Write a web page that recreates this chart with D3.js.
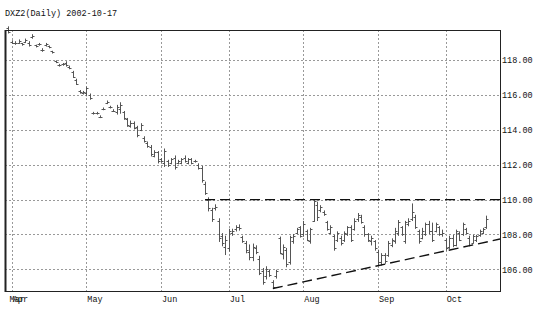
<!DOCTYPE html>
<html>
<head>
<meta charset="utf-8">
<script src="https://cdn.jsdelivr.net/npm/d3@7"></script>
<style>
body { margin: 0; background: #fff; }
text { font-family: "Liberation Mono", "DejaVu Sans Mono", monospace; font-size: 8.5px; fill: #111; }
</style>
</head>
<body>
<script>
// contract + session range
const title = "DXZ2(Daily) 2002-10-17";
const firstDay = "2002-03-28";
const lastDay = "2002-10-17";
const holidays = ["2002-03-29", "2002-05-27", "2002-07-04", "2002-09-02"];

// daily OHLC, one entry per trading day
const opens = [
	119.85,119.05,118.95,119.0,118.95,119.05,119.0,119.3,118.85,118.9,
	118.6,118.85,118.8,118.5,117.95,117.7,117.75,117.85,117.6,117.3,
	116.85,116.2,116.1,116.1,116.0,114.95,114.95,114.75,115.2,115.55,
	115.3,115.1,115.0,115.2,115.0,114.6,114.2,114.4,114.15,114.0,
	113.55,113.25,113.0,112.5,112.7,112.3,112.1,112.2,112.1,112.4,
	112.1,112.1,112.4,112.1,112.3,112.2,112.0,111.8,110.9,110.0,
	109.4,109.5,108.8,107.9,107.3,107.2,108.1,108.3,108.4,107.85,
	107.5,107.0,106.7,107.2,106.6,105.9,105.6,105.9,105.3,105.6,
	107.8,106.9,107.1,106.4,107.6,108.1,108.4,108.0,108.2,107.6,
	108.8,109.7,109.4,109.3,108.7,108.1,107.9,107.7,107.8,107.7,
	108.0,108.4,108.3,108.9,109.0,108.4,108.0,107.6,107.6,107.0,
	106.4,106.8,106.8,107.4,107.6,108.1,108.4,107.6,108.6,108.9,
	109.0,108.2,107.8,108.0,108.6,108.2,108.2,108.4,108.0,107.7,
	107.3,107.8,107.4,108.1,108.0,108.3,107.8,107.5,107.7,107.95,
	108.1,108.4
];
const highs = [
	119.9,119.1,119.05,119.15,118.95,119.2,119.05,119.45,118.85,118.95,
	118.65,118.95,118.8,118.5,117.95,117.75,117.8,117.9,117.65,117.35,
	116.9,116.25,116.2,116.45,116.05,115.0,115.0,114.8,115.25,115.65,
	115.35,115.15,115.4,115.55,115.05,114.65,114.5,114.45,114.2,114.35,
	113.6,113.3,113.1,112.8,112.75,112.35,112.9,112.25,112.35,112.5,
	112.25,112.35,112.5,112.35,112.35,112.25,112.05,111.9,111.0,110.1,
	109.5,109.7,108.9,108.05,107.9,108.3,108.3,108.5,108.55,107.9,
	107.6,107.4,107.45,107.35,106.75,106.05,106.15,105.95,105.35,105.95,
	107.85,107.4,107.2,107.9,108.0,108.35,108.45,108.75,108.25,108.35,
	110.0,109.85,109.65,109.35,108.75,108.5,107.95,108.15,107.9,108.15,
	108.45,108.5,108.9,109.2,109.1,108.5,108.05,107.9,107.65,107.1,
	106.9,106.9,107.6,107.75,108.35,108.8,108.45,108.75,108.9,109.75,
	109.1,108.25,108.35,108.65,108.75,108.65,108.65,108.45,108.25,107.75,
	107.9,107.95,108.25,108.15,108.65,108.35,107.9,107.95,107.95,108.25,
	108.35,109.05
];
const lows = [
	119.55,118.95,118.9,118.95,118.85,119.0,118.8,119.25,118.75,118.85,
	118.5,118.8,118.7,118.4,117.85,117.65,117.7,117.65,117.5,117.0,
	116.6,116.1,116.05,115.95,115.75,114.9,114.9,114.7,115.15,115.5,
	115.25,115.05,114.9,114.95,114.6,114.2,114.15,114.05,113.6,113.95,
	113.3,113.0,112.5,112.45,112.1,112.15,111.9,111.9,112.05,111.75,
	112.05,112.05,112.15,112.05,112.05,112.15,111.75,111.0,110.3,109.35,
	108.75,109.4,107.6,107.35,106.85,107.05,107.95,108.2,108.25,107.55,
	106.95,106.55,106.5,106.9,105.7,105.15,105.45,105.6,104.9,105.5,
	106.9,106.6,106.15,106.3,107.5,108.05,107.85,107.9,107.65,107.5,
	108.75,108.8,109.3,109.1,108.25,108.05,107.1,107.6,107.4,107.6,
	107.95,107.6,108.25,108.75,108.65,107.9,107.6,107.4,107.1,106.25,
	106.25,106.35,106.75,107.3,107.5,107.95,107.95,107.5,108.5,108.8,
	108.35,107.5,107.75,107.95,108.05,107.6,108.15,107.95,107.9,107.1,
	107.2,107.3,107.35,107.65,107.95,108.05,107.35,107.5,107.6,107.9,
	108.05,108.35
];
const closes = [
	119.6,118.95,119.0,119.1,118.9,119.15,118.85,119.4,118.8,118.9,
	118.55,118.9,118.75,118.45,117.9,117.7,117.75,117.7,117.55,117.05,
	116.65,116.15,116.15,116.4,115.8,114.95,114.95,114.75,115.2,115.6,
	115.3,115.1,115.3,115.4,114.65,114.3,114.4,114.1,113.7,114.3,
	113.35,113.05,112.6,112.7,112.2,112.2,112.8,112.0,112.3,111.85,
	112.2,112.3,112.2,112.3,112.1,112.2,111.8,111.1,110.4,109.5,
	108.9,109.6,107.8,107.5,107.7,108.2,108.2,108.4,108.35,107.6,
	107.1,106.7,107.3,107.0,105.8,105.3,106.0,105.7,105.0,105.9,
	106.95,107.3,106.3,107.85,107.9,108.3,107.9,108.6,107.7,108.3,
	109.9,109.0,109.6,109.15,108.3,108.4,107.2,108.1,107.5,108.1,
	108.4,107.7,108.8,109.1,108.7,108.0,107.7,107.8,107.2,106.4,
	106.8,106.5,107.5,107.7,108.2,108.7,108.0,108.7,108.8,109.3,
	108.4,107.6,108.2,108.6,108.2,107.7,108.6,108.0,108.1,107.2,
	107.8,107.4,108.2,107.7,108.6,108.1,107.4,107.9,107.9,108.2,
	108.3,108.9
];

const priceTicks = [106, 108, 110, 112, 114, 116, 118];

// drawn studies: flat top at 110 and rising floor through two lows
const resistance = [58, 110.0];            // [start day index, level]
const support = [[78, 104.9], [129, 107.06]]; // [day index, price]

const width = 541, height = 310;
const plotL = 5, plotR = 500, plotT = 30, plotB = 291;

const parse = d3.utcParse("%Y-%m-%d");
const fmt = d3.utcFormat("%Y-%m-%d");
const days = d3.utcDay.range(parse(firstDay), d3.utcDay.offset(parse(lastDay), 1))
	.filter(d => d.getUTCDay() > 0 && d.getUTCDay() < 6 && !holidays.includes(fmt(d)));

const bars = days.map((d, i) => ({
	i: i, date: d, o: opens[i], h: highs[i], l: lows[i], c: closes[i]
}));

const x = d3.scaleLinear().domain([-1, 145]).range([plotL, plotR]);
const y = d3.scaleLinear().domain([104.76, 119.72]).range([plotB, plotT]);
const px = v => Math.round(v) + 0.5;

const svg = d3.select("body").append("svg")
	.attr("width", width).attr("height", height);

svg.append("text").attr("x", 5).attr("y", 16).text(title);

// month starts
const monthStarts = bars.filter((b, i) => i === 0 || b.date.getUTCMonth() !== bars[i - 1].date.getUTCMonth());

const grid = svg.append("g")
	.attr("stroke", "#999").attr("stroke-width", 1).attr("stroke-dasharray", "2,2");
grid.selectAll("line.h").data(priceTicks).join("line")
	.attr("class", "h")
	.attr("x1", plotL).attr("x2", plotR)
	.attr("y1", d => px(y(d))).attr("y2", d => px(y(d)));
grid.selectAll("line.v").data(monthStarts.filter(b => b.i > 0)).join("line")
	.attr("class", "v")
	.attr("x1", d => px(x(d.i))).attr("x2", d => px(x(d.i)))
	.attr("y1", plotT).attr("y2", plotB);

// OHLC bars
const g = svg.append("g").attr("stroke", "#555").attr("stroke-width", 1);
g.selectAll("line.hl").data(bars).join("line")
	.attr("class", "hl")
	.attr("x1", d => px(x(d.i))).attr("x2", d => px(x(d.i)))
	.attr("y1", d => y(d.h) - 0.5).attr("y2", d => y(d.l) + 0.5);
g.selectAll("line.o").data(bars).join("line")
	.attr("class", "o")
	.attr("x1", d => px(x(d.i)) - 2).attr("x2", d => px(x(d.i)))
	.attr("y1", d => px(y(d.o))).attr("y2", d => px(y(d.o)));
g.selectAll("line.c").data(bars).join("line")
	.attr("class", "c")
	.attr("x1", d => px(x(d.i))).attr("x2", d => px(x(d.i)) + 2)
	.attr("y1", d => px(y(d.c))).attr("y2", d => px(y(d.c)));

// trend lines
const slope = (support[1][1] - support[0][1]) / (support[1][0] - support[0][0]);
const xEnd = x.domain()[1];
const lines = [
	[[resistance[0], resistance[1]], [xEnd, resistance[1]]],
	[[support[0][0], support[0][1]], [xEnd, support[0][1] + slope * (xEnd - support[0][0])]]
];
svg.append("g").selectAll("path").data(lines).join("path")
	.attr("d", d3.line().x(d => x(d[0])).y(d => y(d[1])))
	.attr("fill", "none").attr("stroke", "#111").attr("stroke-width", 1.4)
	.attr("stroke-dasharray", "10,5");

// frame
svg.append("rect")
	.attr("x", plotL + 0.5).attr("y", plotT + 0.5)
	.attr("width", plotR - plotL).attr("height", plotB - plotT)
	.attr("fill", "none").attr("stroke", "#222").attr("stroke-width", 1);
svg.append("line")
	.attr("x1", plotL + 0.5).attr("x2", plotL + 0.5).attr("y1", plotT).attr("y2", plotB + 1)
	.attr("stroke", "#222").attr("stroke-width", 2);

// price axis on the right
const yAxis = svg.append("g")
	.attr("transform", `translate(${plotR},0)`)
	.call(d3.axisRight(y).tickValues(priceTicks).tickFormat(d3.format(".2f")).tickSize(0).tickPadding(2));
yAxis.select(".domain").remove();
yAxis.selectAll("text").attr("fill", "#111").style("font-size", "8.5px")
	.style("font-family", "'Liberation Mono', 'DejaVu Sans Mono', monospace");

// month labels (Mar and Apr sit on top of each other, as in the source)
svg.append("g").selectAll("text").data(monthStarts).join("text")
	.attr("x", d => x(d.i) + 1).attr("y", 302)
	.text(d => d3.utcFormat("%b")(d.date));
</script>
</body>
</html>
